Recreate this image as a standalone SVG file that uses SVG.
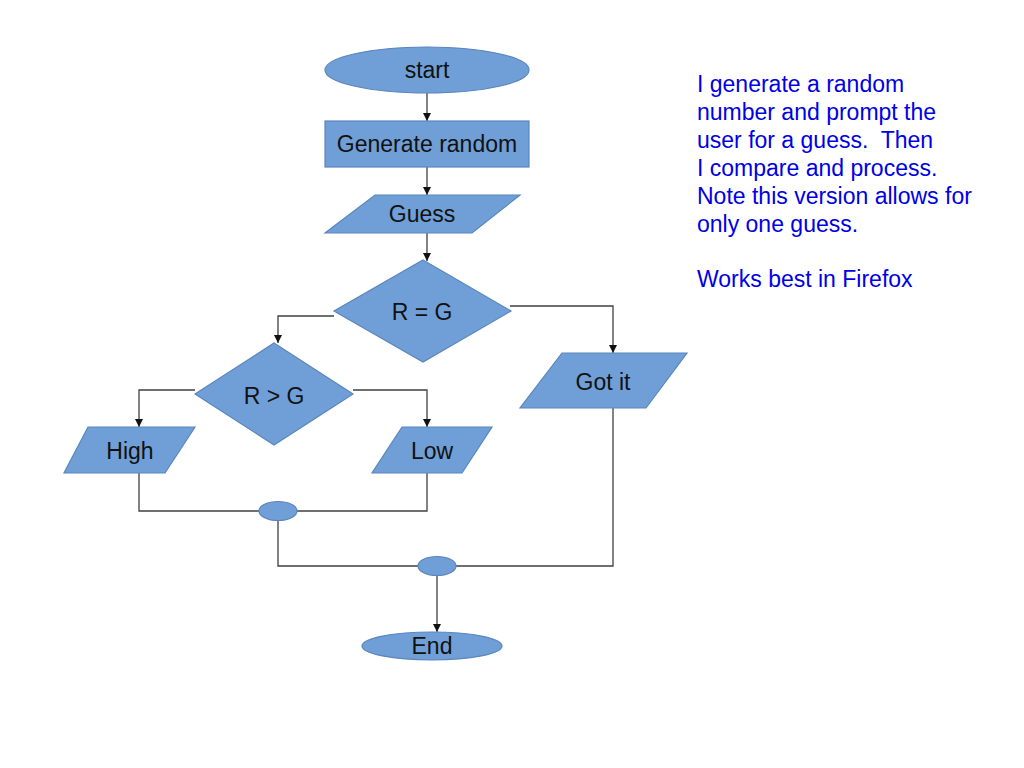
<svg xmlns="http://www.w3.org/2000/svg" width="1024" height="768" viewBox="0 0 1024 768">
<style>
.shape{fill:#6f9fd6;stroke:#5a86bd;stroke-width:1.2}
.lbl{font-family:"Liberation Sans",Arial,sans-serif;font-size:23px;fill:#111;text-anchor:middle}
.conn{fill:none;stroke:#404040;stroke-width:1.3}
.note{font-family:"Liberation Sans",Arial,sans-serif;font-size:23px;fill:#0000e6}
</style>
<defs>
<marker id="arr" viewBox="0 0 10 10" refX="10" refY="5" markerWidth="8" markerHeight="8" markerUnits="userSpaceOnUse" orient="auto">
<path d="M0,0 L10,5 L0,10 z" fill="#111"/>
</marker>
</defs>
<rect width="1024" height="768" fill="#fff"/>
<g id="connectors">
<line class="conn" x1="427" y1="93" x2="427" y2="121" marker-end="url(#arr)"/>
<line class="conn" x1="427" y1="167" x2="427" y2="195" marker-end="url(#arr)"/>
<line class="conn" x1="427" y1="233" x2="427" y2="261" marker-end="url(#arr)"/>
<polyline class="conn" points="334,316 278,316 278,343" marker-end="url(#arr)"/>
<polyline class="conn" points="510,306 613,306 613,353" marker-end="url(#arr)"/>
<polyline class="conn" points="195,390 139,390 139,427" marker-end="url(#arr)"/>
<polyline class="conn" points="353,390 427,390 427,427" marker-end="url(#arr)"/>
<polyline class="conn" points="139,473 139,511 259,511"/>
<polyline class="conn" points="427,473 427,511 297,511"/>
<polyline class="conn" points="278,520 278,566 418,566"/>
<polyline class="conn" points="613,408 613,566 456,566"/>
<line class="conn" x1="437" y1="576" x2="437" y2="632" marker-end="url(#arr)"/>
</g>
<g id="start">
<ellipse class="shape" cx="427" cy="70" rx="102" ry="23"/>
<text class="lbl" x="427" y="78">start</text>
</g>
<g id="generate">
<rect class="shape" x="325" y="121" width="204" height="46"/>
<text class="lbl" x="427" y="152">Generate random</text>
</g>
<g id="guess">
<polygon class="shape" points="375,195 520,195 472,233 325,233"/>
<text class="lbl" x="422" y="222">Guess</text>
</g>
<g id="req">
<polygon class="shape" points="423,260 511,311 423,362 334,311"/>
<text class="lbl" x="422" y="320">R = G</text>
</g>
<g id="rgt">
<polygon class="shape" points="274,343 353,394 274,445 195,394"/>
<text class="lbl" x="274" y="404">R &gt; G</text>
</g>
<g id="high">
<polygon class="shape" points="88,427 195,427 165,473 64,473"/>
<text class="lbl" x="130" y="459">High</text>
</g>
<g id="low">
<polygon class="shape" points="402,427 492,427 462,473 372,473"/>
<text class="lbl" x="432" y="459">Low</text>
</g>
<g id="gotit">
<polygon class="shape" points="562,353 687,353 646,408 520,408"/>
<text class="lbl" x="603" y="390">Got it</text>
</g>
<g id="join1">
<ellipse class="shape" cx="278" cy="511" rx="19" ry="9.5"/>
</g>
<g id="join2">
<ellipse class="shape" cx="437" cy="566" rx="19" ry="9.5"/>
</g>
<g id="end">
<ellipse class="shape" cx="432" cy="646" rx="70" ry="14"/>
<text class="lbl" x="432" y="654">End</text>
</g>
<g id="note">
<text class="note" x="697" y="92">I generate a random</text>
<text class="note" x="697" y="120">number and prompt the</text>
<text class="note" x="697" y="148" xml:space="preserve">user for a guess.  Then</text>
<text class="note" x="697" y="176">I compare and process.</text>
<text class="note" x="697" y="204">Note this version allows for</text>
<text class="note" x="697" y="232">only one guess.</text>
<text class="note" x="697" y="287">Works best in Firefox</text>
</g>
</svg>
